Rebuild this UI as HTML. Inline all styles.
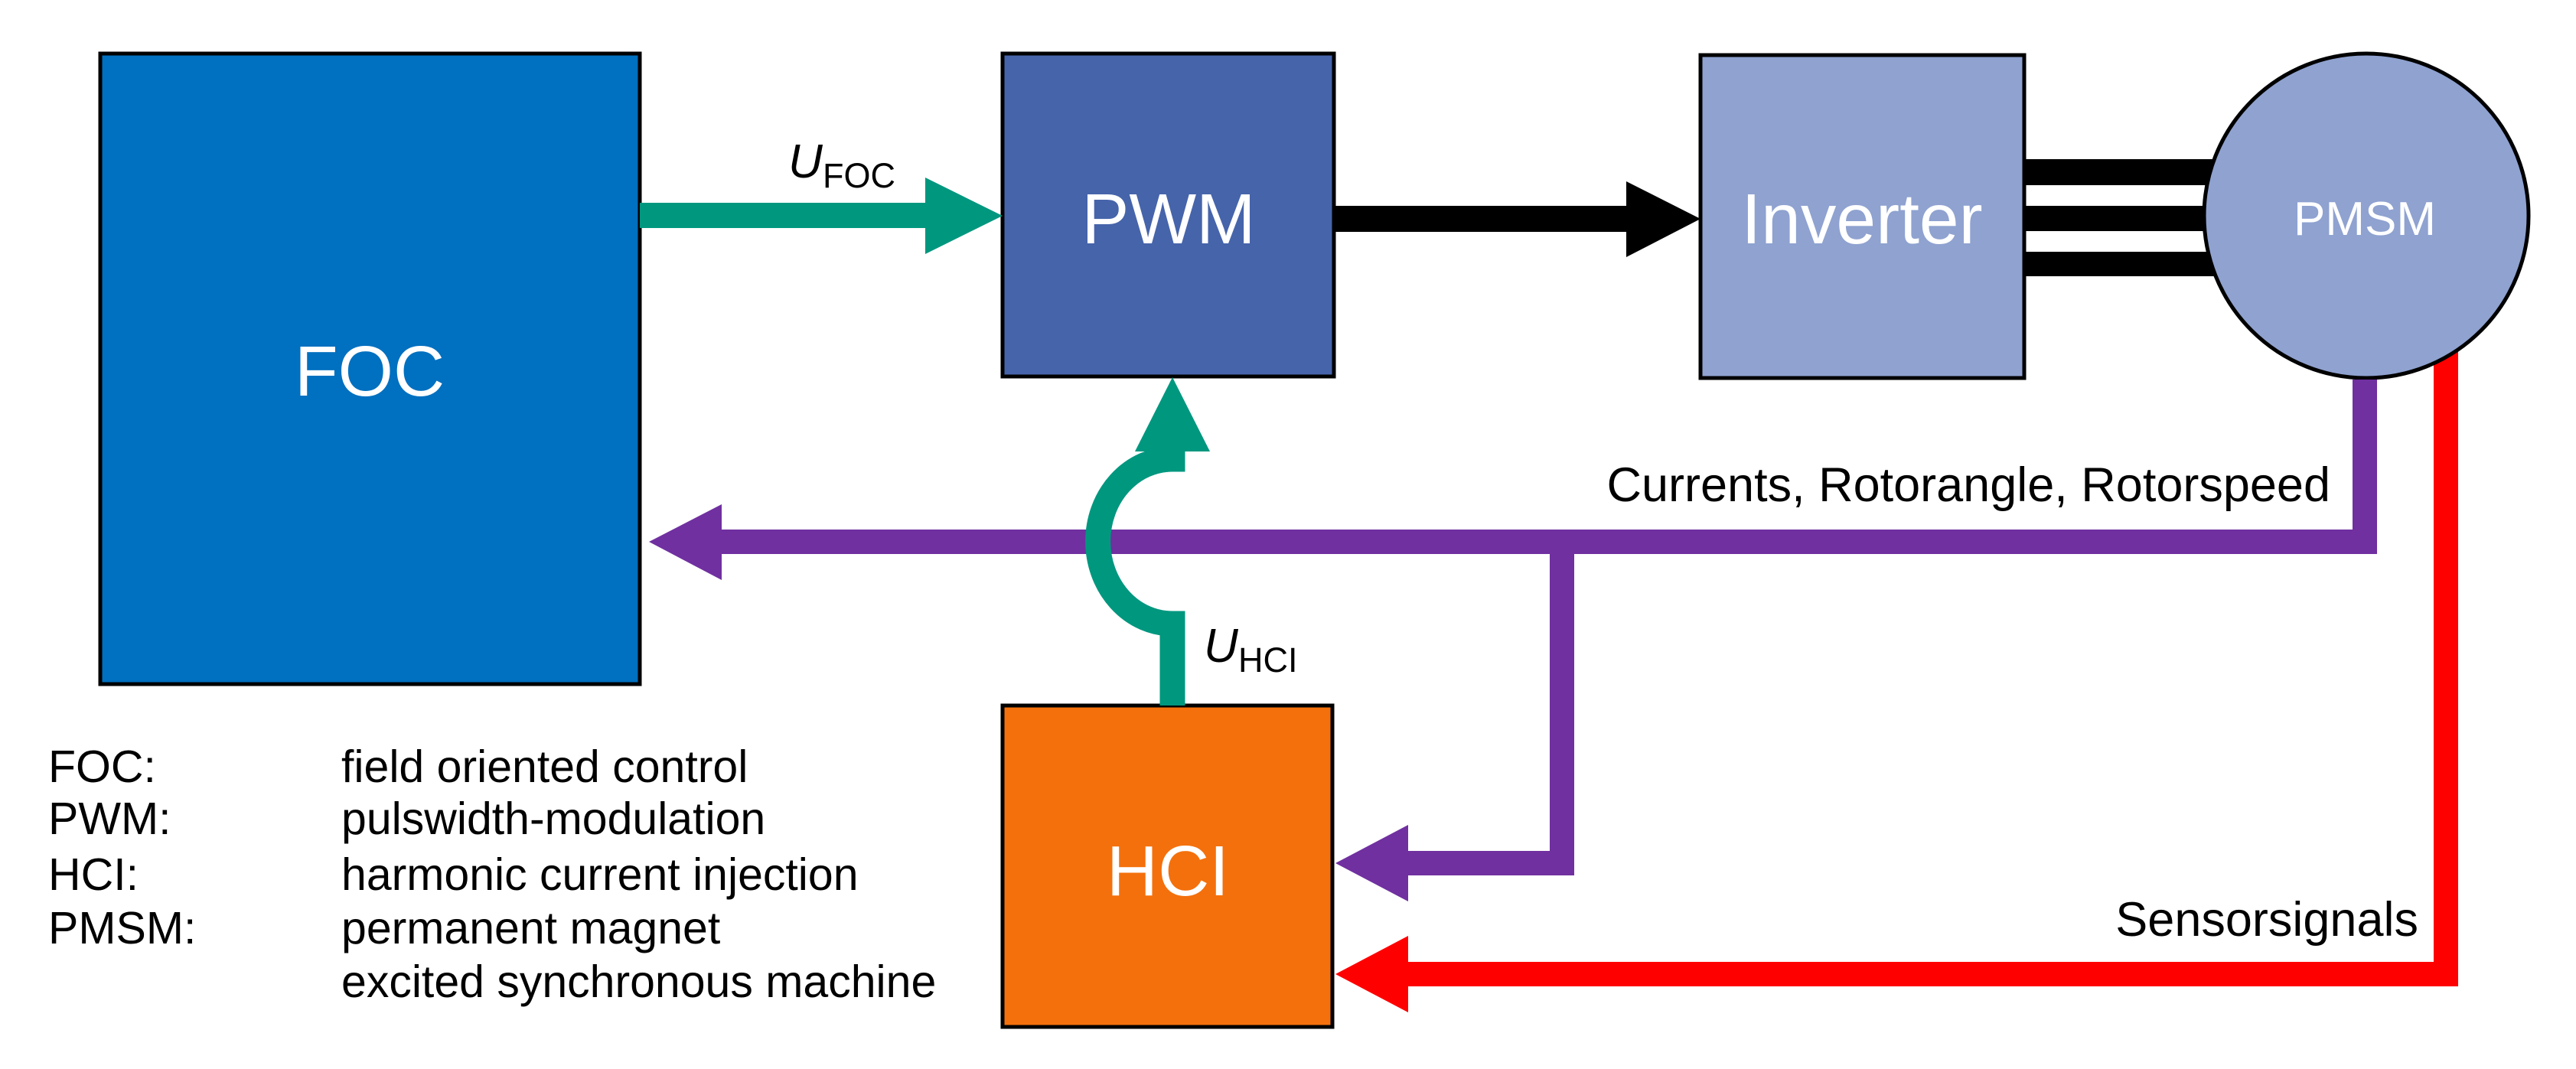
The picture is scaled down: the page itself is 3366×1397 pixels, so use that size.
<!DOCTYPE html>
<html><head><meta charset="utf-8"><style>
html,body{margin:0;padding:0;background:#fff;}
svg{display:block;}
text{font-family:"Liberation Sans",Arial,sans-serif;}
</style></head><body>
<svg width="3366" height="1397" viewBox="0 0 3366 1397" xmlns="http://www.w3.org/2000/svg">
<rect width="3366" height="1397" fill="#fff"/>
<rect x="131" y="70" width="705" height="824" fill="#0070C0" stroke="#000" stroke-width="5"/>
<rect x="1310" y="70" width="433" height="422" fill="#4664AA" stroke="#000" stroke-width="5"/>
<rect x="2222" y="72" width="423" height="422" fill="#8FA2D0" stroke="#000" stroke-width="5"/>
<rect x="1310" y="922" width="431" height="420" fill="#F4700C" stroke="#000" stroke-width="5"/>
<rect x="2645" y="208" width="260" height="34" fill="#000"/>
<rect x="2645" y="269" width="250" height="33" fill="#000"/>
<rect x="2645" y="329" width="260" height="32" fill="#000"/>
<polyline points="3196,420 3196,1273 1835,1273" fill="none" stroke="#FF0000" stroke-width="32"/>
<polygon points="1745,1273 1840,1223 1840,1323" fill="#FF0000"/>
<ellipse cx="3092" cy="282" rx="212" ry="212" fill="#8FA2D0" stroke="#000" stroke-width="5"/>
<rect x="836" y="265" width="378" height="33" fill="#00977F"/>
<polygon points="1209,232 1310,282 1209,332" fill="#00977F"/>
<rect x="1743" y="269" width="385" height="34" fill="#000"/>
<polygon points="2125,237 2222,286 2125,336" fill="#000"/>
<polyline points="3090,496 3090,708 940,708" fill="none" stroke="#7030A0" stroke-width="32"/>
<polygon points="848,708 943,659 943,758" fill="#7030A0"/>
<polyline points="2041,708 2041,1128 1835,1128" fill="none" stroke="#7030A0" stroke-width="32"/>
<polygon points="1745,1128 1840,1078 1840,1178" fill="#7030A0"/>
<path d="M1532,922 V815 A96,106 0 0 1 1532,600 V585" fill="none" stroke="#00977F" stroke-width="33"/>
<polygon points="1483,590 1532,493 1581,590" fill="#00977F"/>
<text x="483" y="517" font-size="93" fill="#fff" text-anchor="middle">FOC</text>
<text x="1527" y="318" font-size="93" fill="#fff" text-anchor="middle">PWM</text>
<text x="2433" y="318" font-size="93" fill="#fff" text-anchor="middle">Inverter</text>
<text x="3090" y="307" font-size="62" fill="#fff" text-anchor="middle">PMSM</text>
<text x="1526" y="1170" font-size="93" fill="#fff" text-anchor="middle">HCI</text>
<text x="1030" y="232" font-size="62" font-style="italic" fill="#000">U</text>
<text x="1075" y="245" font-size="45" fill="#000">FOC</text>
<text x="1573" y="865" font-size="62" font-style="italic" fill="#000">U</text>
<text x="1618" y="878" font-size="45" fill="#000">HCI</text>
<text x="3045" y="655" font-size="63" fill="#000" text-anchor="end">Currents, Rotorangle, Rotorspeed</text>
<text x="3160" y="1223" font-size="63" fill="#000" text-anchor="end">Sensorsignals</text>
<g font-size="59" fill="#000">
<text x="63" y="1022">FOC:</text><text x="446" y="1022">field oriented control</text>
<text x="63" y="1090">PWM:</text><text x="446" y="1090">pulswidth-modulation</text>
<text x="63" y="1163">HCI:</text><text x="446" y="1163">harmonic current injection</text>
<text x="63" y="1233">PMSM:</text><text x="446" y="1233">permanent magnet</text>
<text x="446" y="1303">excited synchronous machine</text>
</g>
</svg>
</body></html>
